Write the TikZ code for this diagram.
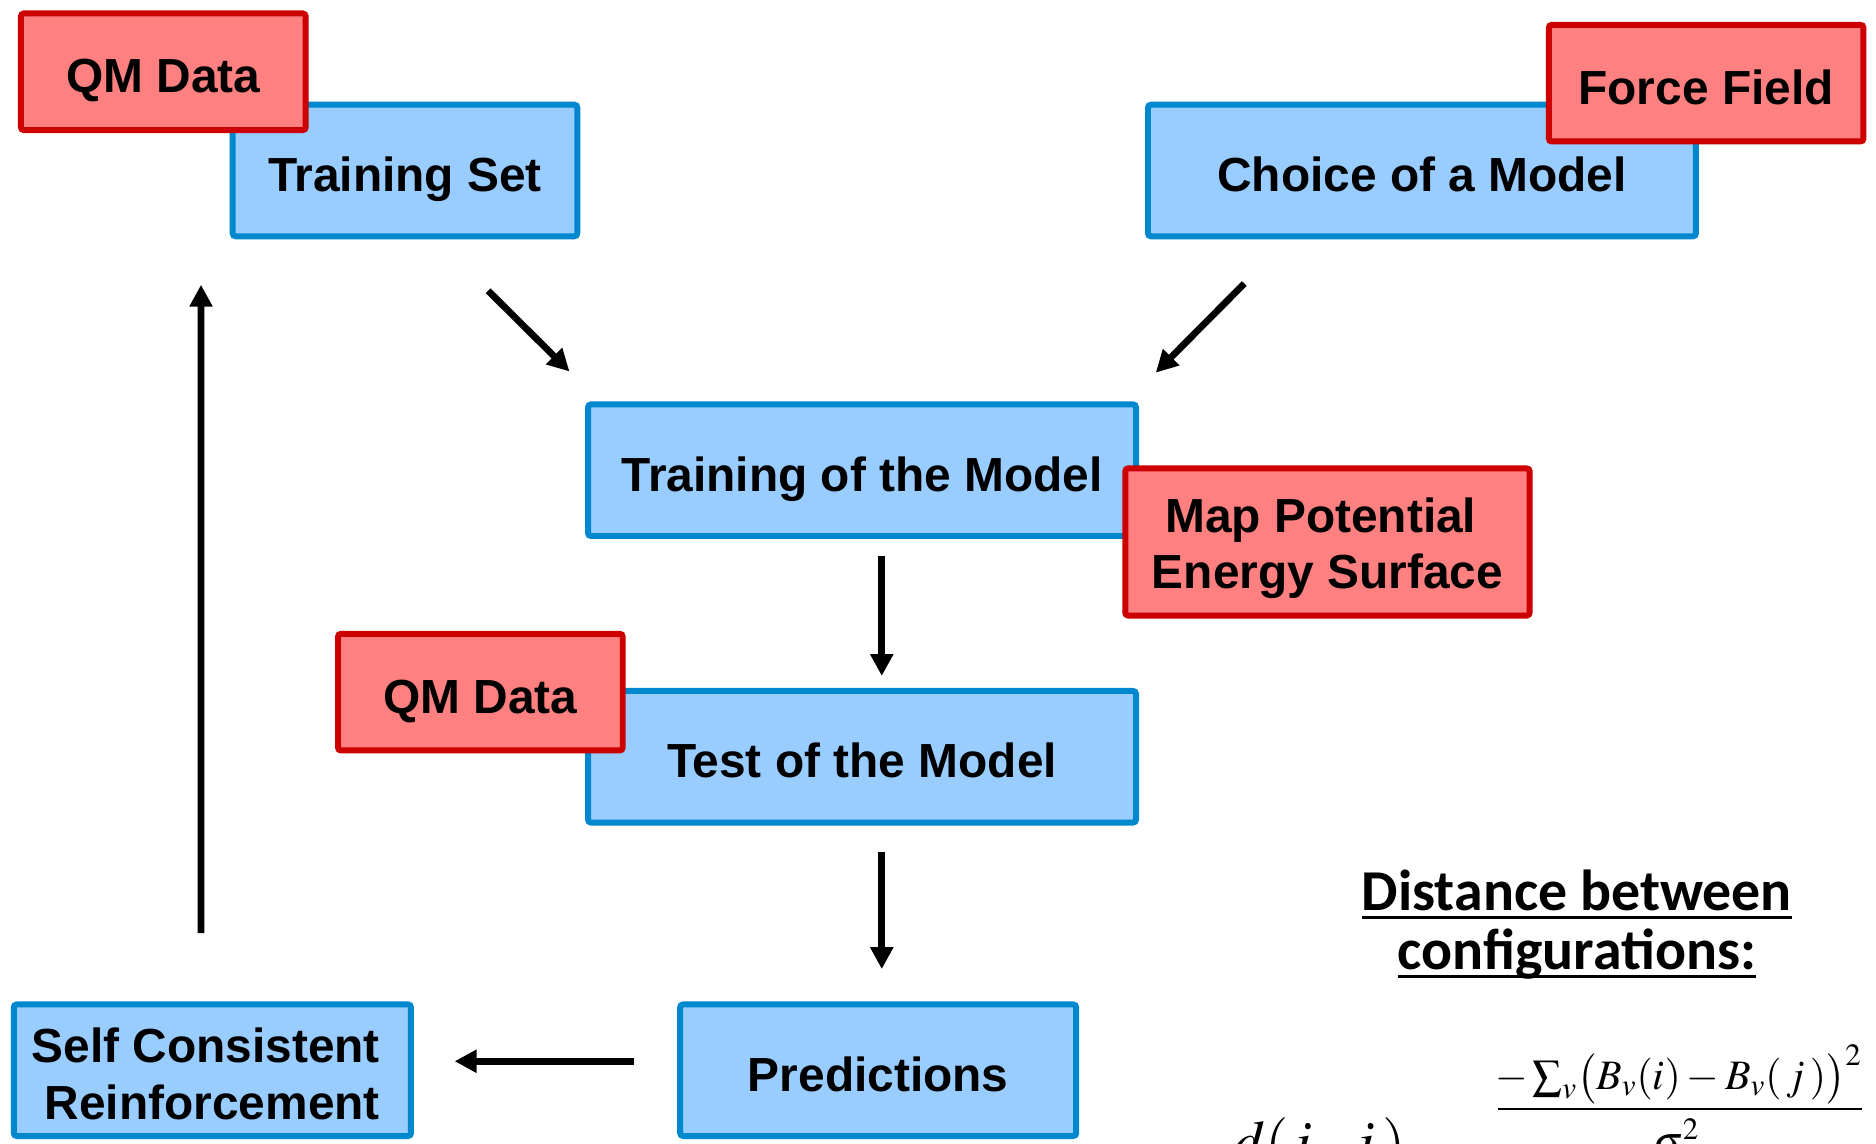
\documentclass[tikz,border=0pt]{standalone}
\usepackage{mathptmx}
\usepackage{fontspec}
\setmainfont{Liberation Sans}
\newfontfamily\titlefont{Carlito}
\usetikzlibrary{calc,arrows.meta}

\definecolor{boxblue}{HTML}{99CCFF}
\definecolor{lineblue}{HTML}{0088CF}
\definecolor{boxred}{HTML}{FF8080}
\definecolor{linered}{HTML}{CC0000}

\newsavebox{\ulbox}
\newcommand{\ulline}[1]{\sbox{\ulbox}{#1}\rlap{\rule[-4pt]{\wd\ulbox}{1.5pt}}\usebox{\ulbox}}
\newcommand{\tailspace}{\rule{6.7pt}{0pt}}
\newcommand{\topstrut}[1]{\rule{0pt}{#1}}

\tikzset{
    stage/.style={rectangle, rounded corners=1.5pt, draw=lineblue, fill=boxblue, line width=3pt,
        inner sep=0pt, align=center, minimum height=66pt, text height=21pt, text depth=0pt,
        font=\bfseries\fontsize{24}{28.2}\selectfont},
    twoline/.style={text height={}, text depth={}},
    wide/.style={minimum width=274.8pt},
    source/.style={stage, draw=linered, fill=boxred, minimum height=58.5pt},
}

\begin{document}
\begin{tikzpicture}[x=0.6pt,y=-0.6pt]
    \useasboundingbox (0,0) rectangle (1568,956);

        % steps of the loop
        \begin{scope}[every node/.style={stage}]
            \node[minimum width=172.8pt] (tset) at (338.5,142.5) {Training Set};
            \node[wide] (choice) at (1188.5,142.5) {Choice of a Model};
            \node[wide] (train) at (720.5,393) {Training of the Model};
            \node[wide] (test) at (720.5,632.5) {Test of the Model};
            \node[minimum width=198.6pt] (pred) at (734,894.5) {Predictions};
            \node[twoline, minimum width=199.2pt] (scr) at (177.5,894.5)
                {\topstrut{21pt}Self Consistent\tailspace\\Reinforcement};
        \end{scope}

        % inputs on top of the steps
        \begin{scope}[every node/.style={source}]
            \node[minimum width=142.8pt] (qm1) at (136.5,60) {QM Data};
            \node[minimum width=157.8pt] (ff) at (1426,69.5) {Force Field};
            \node[twoline, minimum width=202.8pt, minimum height=73.8pt] (mpes) at (1109.5,453)
                {\topstrut{23.5pt}Map Potential\tailspace\\Energy Surface};
            \node[minimum width=142.8pt] (qm2) at (401.5,578.5) {QM Data};
        \end{scope}

        \begin{scope}[every edge/.style={draw, line width=3.4pt, -{Triangle[length=11pt,width=11pt]}}]
            \path ($(tset.south)+(69.5,43)$) edge ($(train.north west)+(-13,-25)$);
            \path ($(choice.south west)+(83,37)$) edge ($(train.north east)+(14,-24)$);
            \path ($(train.south)+(16.5,14)$) edge ($(test.north)+(16.5,-10)$);
            \path ($(test.south)+(16.5,22)$) edge ($(pred.north)+(3,-27)$);
            \path ($(pred.west)+(-36,-7.5)$) edge ($(scr.east)+(34,-7.5)$);
            \path ($(scr.north)+(-9.5,-57)$) edge ($(tset.south west)+(-24,38)$);
        \end{scope}

        % distance
        \node[align=center, font=\titlefont\bfseries\fontsize{29}{29.5}\selectfont] (dist) at (1318,773)
            {\ulline{Distance between}\\\ulline{configurations:}};
        \node[anchor=south, inner sep=0pt, font=\fontsize{21}{21}\selectfont] (num) at (1403,923)
            {$-\sum_{v}\bigl(B_{v}(i)-B_{v}(\,j\,)\bigr)^{2}$};
        \draw[line width=1.2pt] (1252,927) -- (1556,927);
        \node[anchor=north, inner sep=0pt, font=\fontsize{21}{21}\selectfont] (den) at (1401,935) {$\sigma^{2}$};
        \node[anchor=north west, inner sep=0pt, font=\fontsize{30}{30}\selectfont] (dij) at (1030,934) {$d(\,i\,,\,j\,)$};

\end{tikzpicture}
\end{document}
